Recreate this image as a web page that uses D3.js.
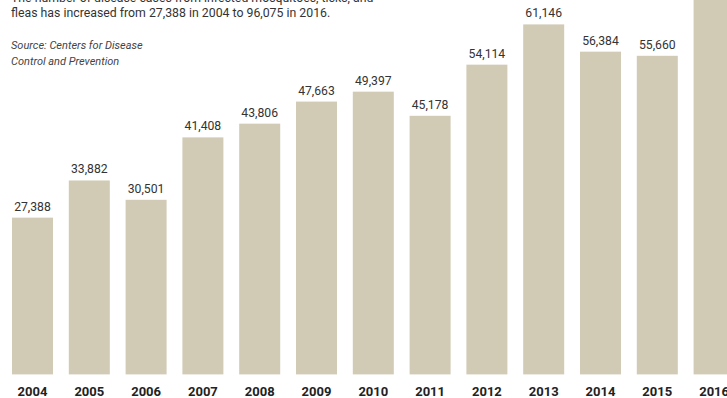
<!DOCTYPE html>
<html><head><meta charset="utf-8">
<script src="https://cdn.jsdelivr.net/npm/d3@7"></script>
<style>
html,body{margin:0;padding:0;background:#fff;overflow:hidden;}
svg{display:block;}
</style></head>
<body>
<svg id="chart" width="727" height="398"></svg>
<script>
const years = ["2004","2005","2006","2007","2008","2009","2010","2011","2012","2013","2014","2015","2016"];
const cases = [27388,33882,30501,41408,43806,47663,49397,45178,54114,61146,56384,55660,96075];
const introLines = ["The number of disease cases from infected mosquitoes, ticks, and","fleas has increased from 27,388 in 2004 to 96,075 in 2016."];
const sourceLines = ["Source: Centers for Disease","Control and Prevention"];

const svg = d3.select("#chart");
const font = "Roboto, 'Open Sans', sans-serif";
const x = d3.scaleBand().domain(years).range([12, 734.6]).paddingInner(0.278).paddingOuter(0);
const y = d3.scaleLinear().domain([0, 61146]).range([374.4, 24.4]);

svg.append("g").selectAll("rect").data(years).join("rect")
  .attr("x", d => x(d))
  .attr("width", x.bandwidth())
  .attr("y", (d,i) => y(cases[i]))
  .attr("height", (d,i) => y(0) - y(cases[i]))
  .attr("fill", "#d1cbb5");

svg.append("g").selectAll("text").data(years).join("text")
  .attr("x", d => x(d) + x.bandwidth()/2)
  .attr("y", (d,i) => y(cases[i]) - 7)
  .attr("text-anchor", "middle")
  .attr("font-family", font)
  .attr("font-size", 12.2)
  .attr("fill", "#333")
  .text((d,i) => d3.format(",")(cases[i]));

const xAxis = d3.axisBottom(x).tickSize(0).tickPadding(0);
const ax = svg.append("g").attr("transform", "translate(0,396)").call(xAxis);
ax.select(".domain").remove();
ax.selectAll("text").attr("font-family", font).attr("font-size", 13).attr("font-weight", "bold").attr("fill", "#222").attr("dy", "0");

svg.append("g").selectAll("text").data(introLines).join("text")
  .attr("x", 11).attr("y", (d,i) => 1.8 + i*15.5)
  .attr("font-family", font).attr("font-size", 12.3).attr("fill", "#333")
  .text(d => d);

svg.append("g").selectAll("text").data(sourceLines).join("text")
  .attr("x", 11).attr("y", (d,i) => 49.3 + i*16)
  .attr("font-family", font).attr("font-size", 11).attr("font-style", "italic").attr("fill", "#444")
  .text(d => d);
</script>
</body></html>
